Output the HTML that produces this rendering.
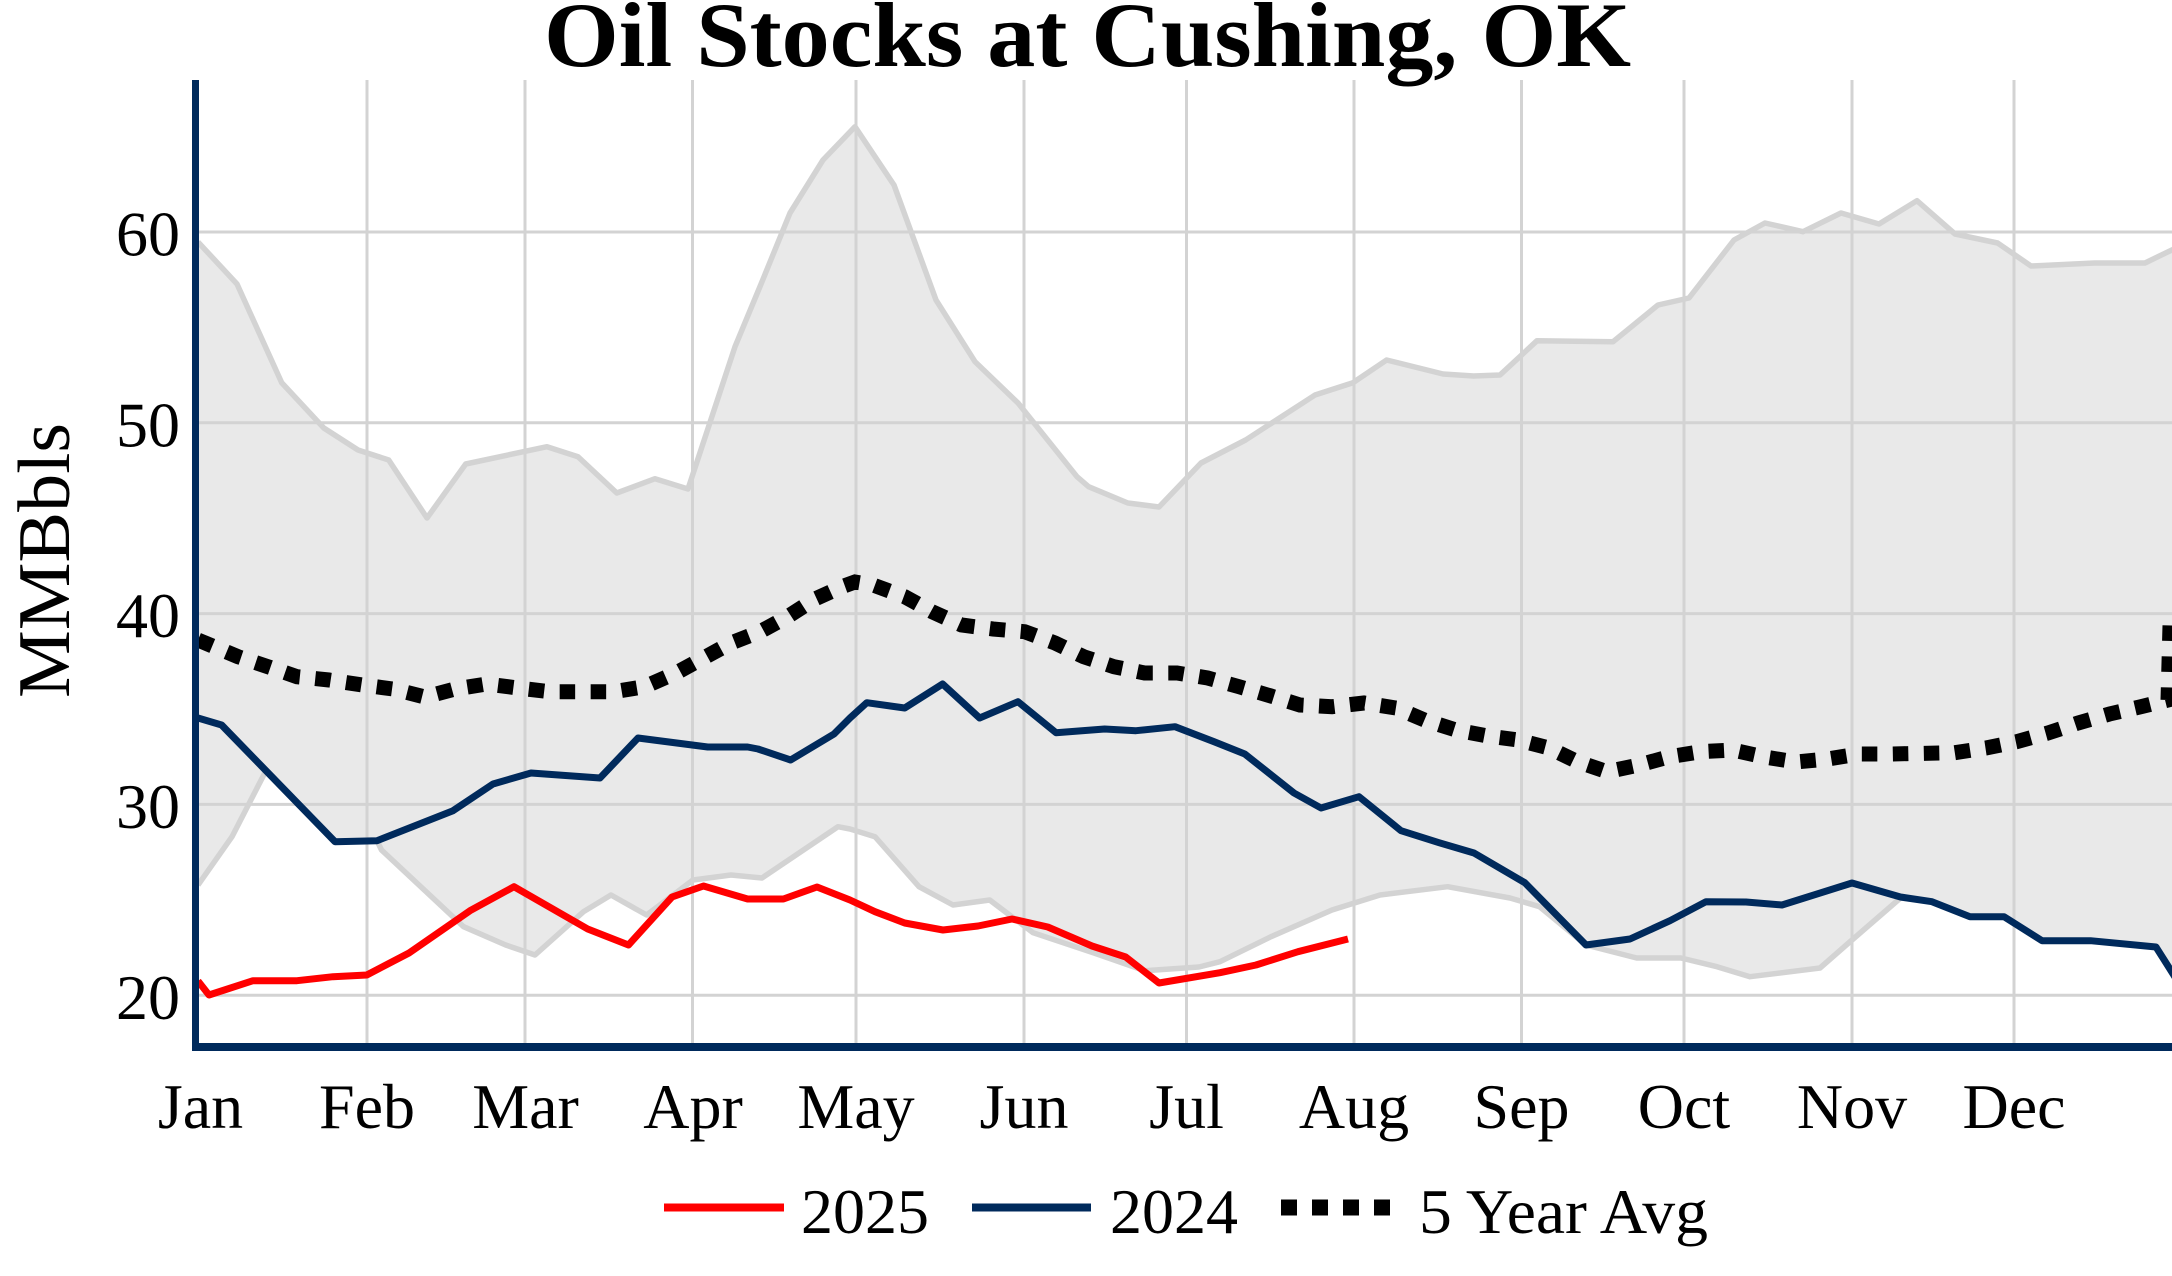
<!DOCTYPE html>
<html>
<head>
<meta charset="utf-8">
<style>
html,body{margin:0;padding:0;background:#fff;}
svg{display:block;}
text{font-family:"Liberation Serif","Times New Roman",serif;fill:#000;}
</style>
</head>
<body>
<svg width="2172" height="1276" viewBox="0 0 2172 1276" xmlns="http://www.w3.org/2000/svg">
<rect x="0" y="0" width="2172" height="1276" fill="#fff"/>
<defs>
<clipPath id="plot"><rect x="196" y="80" width="1976" height="967"/></clipPath>
</defs>

<!-- gridlines -->
<g stroke="#d3d3d3" stroke-width="3" fill="none">
<line x1="196" y1="232" x2="2172" y2="232"/>
<line x1="196" y1="422.8" x2="2172" y2="422.8"/>
<line x1="196" y1="613.6" x2="2172" y2="613.6"/>
<line x1="196" y1="804.4" x2="2172" y2="804.4"/>
<line x1="196" y1="995.2" x2="2172" y2="995.2"/>
<line x1="367" y1="80" x2="367" y2="1047"/>
<line x1="525" y1="80" x2="525" y2="1047"/>
<line x1="692.5" y1="80" x2="692.5" y2="1047"/>
<line x1="856" y1="80" x2="856" y2="1047"/>
<line x1="1024" y1="80" x2="1024" y2="1047"/>
<line x1="1186.5" y1="80" x2="1186.5" y2="1047"/>
<line x1="1354" y1="80" x2="1354" y2="1047"/>
<line x1="1521.5" y1="80" x2="1521.5" y2="1047"/>
<line x1="1684" y1="80" x2="1684" y2="1047"/>
<line x1="1852" y1="80" x2="1852" y2="1047"/>
<line x1="2014" y1="80" x2="2014" y2="1047"/>
</g>

<g clip-path="url(#plot)">
<!-- range fill -->
<polygon fill="rgba(211,211,211,0.5)" stroke="none" points="
198,242 237,284 281.7,382.7 323.8,428 358,450 388.7,460 427,518 465.7,464 547,446.7 578,456.7 616.8,493 655,478.7 688,489 735,346.7 762,281.7 790,213 823,160 855,126.7 894,185 936,300 975,361.7 1018,403 1077,476.7 1088.6,486.7 1127.8,503 1159,507 1201,463 1245.6,440 1315,395 1353,382.7 1386.6,360 1443,374 1473.7,376 1500,375 1537,340.7 1613,341.7 1658,305 1689,298 1734,240 1765,223 1803,231.7 1841,213 1879,224 1917,200.7 1955,234 1997.6,243 2031,266 2094.7,263 2145,263 2180,246
2180,985 2156,947 2090.5,940.7 2042,940.7 2004,916.7 1970,916.7 1932,901.7 1900.5,898 1852,940 1820,968 1750,976.7 1717,966.7 1681,958 1636.7,958 1586,945 1539.6,906.7 1510,898 1447.6,886.7 1380,895 1332,910 1271,936.7 1220,961.7 1199,967 1144.6,970.7 1094,953 1033,932.7 989.7,900 953,905 919,886.7 875,836.7 850,829 838,826.7 762,878 731,875 693,880 646.6,915 611,895 583.5,911.7 535,955 505.7,945 463.6,926.7 381.5,850 377,840.7 335,841.7 265.8,771 232,836.7 198,885"/>

<!-- upper envelope line -->
<polyline fill="none" stroke="#d3d3d3" stroke-width="5.5" stroke-linejoin="round" points="198,242 237,284 281.7,382.7 323.8,428 358,450 388.7,460 427,518 465.7,464 547,446.7 578,456.7 616.8,493 655,478.7 688,489 735,346.7 762,281.7 790,213 823,160 855,126.7 894,185 936,300 975,361.7 1018,403 1077,476.7 1088.6,486.7 1127.8,503 1159,507 1201,463 1245.6,440 1315,395 1353,382.7 1386.6,360 1443,374 1473.7,376 1500,375 1537,340.7 1613,341.7 1658,305 1689,298 1734,240 1765,223 1803,231.7 1841,213 1879,224 1917,200.7 1955,234 1997.6,243 2031,266 2094.7,263 2145,263 2180,246"/>

<!-- lower envelope line -->
<polyline fill="none" stroke="#d3d3d3" stroke-width="5.5" stroke-linejoin="round" points="198,885 232,836.7 265.8,771 335,841.7 377,840.7 381.5,850 463.6,926.7 505.7,945 535,955 583.5,911.7 611,895 646.6,915 693,880 731,875 762,878 838,826.7 850,829 875,836.7 919,886.7 953,905 989.7,900 1033,932.7 1094,953 1144.6,970.7 1199,967 1220,961.7 1271,936.7 1332,910 1380,895 1447.6,886.7 1510,898 1539.6,906.7 1586,945 1636.7,958 1681,958 1717,966.7 1750,976.7 1820,968 1852,940 1900.5,898 1932,901.7 1970,916.7 2004,916.7 2042,940.7 2090.5,940.7 2156,947 2180,985"/>

<!-- 5 year average -->
<polyline fill="none" stroke="#000" stroke-width="15" stroke-dasharray="15.5,15.5" points="198,640 238,656.7 268,666.7 297,676.7 329,680 362.6,685 393,689 425,697 455,689 486.7,684 518,688 550,691.7 614,691.7 644.5,686.7 676,673 703.5,658 731,643 760,631.7 787.6,616.7 815,599 842,586.7 855,582 873,585 904.7,596.7 932,611.7 961.5,625 993,629 1024.7,631.7 1055,643 1083.6,656.7 1114,666.7 1144.6,673 1177,673 1207.7,678 1239,686.7 1271,696 1300,705 1332,706.7 1364,703 1396,708 1424.5,720 1456,730 1487.6,736 1518.4,740 1549,748 1577.5,761.7 1607,771.7 1638.8,765 1669.6,756.7 1700.8,751.7 1733,750 1764.6,757 1795.8,762 1827.5,759 1858.7,754 1890,754 1954.6,752.7 1986,748 2016.6,741.7 2048,733 2078,723 2109.5,714 2141,706.7 2168,700 2170,625"/>

<!-- 2024 -->
<polyline fill="none" stroke="#002a5c" stroke-width="7" stroke-linejoin="round" points="198,718 221.6,725 335,841.7 377,840.7 453,810.7 493,784 531,773 600,778 638,738 707.7,747 747.6,747 758,749 790.6,760 834,734 850,718 866.8,702.7 904.7,708 942.6,684 979.6,718 1018,701.7 1056,732.7 1104.6,729 1136,730.7 1175,726.7 1214,741.7 1244.8,754 1294,793 1321,808 1359,796.7 1401,830.7 1439,842.7 1474,853 1524.8,882.7 1586,945 1630,939 1670,920.7 1706,901.7 1746,902 1782,905 1852,883 1900.5,897 1932,901.7 1970,916.7 2004,916.7 2042,940.7 2090.5,940.7 2156,947 2180,985"/>

<!-- 2025 -->
<polyline fill="none" stroke="#ff0000" stroke-width="7" stroke-linejoin="round" points="198,981 209,995 253,980.7 297,980.7 333,976.7 366.8,975 409,953 470,910.7 514,886.7 587.7,929 628.5,945 672,897 703.5,886 747.6,899 783.4,899 817,887 850,900 875,911.7 904.7,923 943,930 978,926 1012,919 1047.8,927 1092,946 1125.7,957 1159,983 1220,972.7 1256,965 1298,951.7 1348,939"/>
</g>

<!-- axes -->
<line x1="195.5" y1="80" x2="195.5" y2="1051" stroke="#002a5c" stroke-width="7"/>
<line x1="192" y1="1047" x2="2172" y2="1047" stroke="#002a5c" stroke-width="8"/>

<!-- title -->
<text x="544" y="66" font-size="92" font-weight="bold" textLength="1087" lengthAdjust="spacingAndGlyphs">Oil Stocks at Cushing, OK</text>

<!-- y tick labels -->
<g font-size="64" text-anchor="end">
<text x="180" y="255.5">60</text>
<text x="180" y="446.5">50</text>
<text x="180" y="637">40</text>
<text x="180" y="828">30</text>
<text x="180" y="1019">20</text>
</g>

<!-- y axis title -->
<text transform="translate(69,560.5) rotate(-90)" font-size="74" text-anchor="middle" textLength="275" lengthAdjust="spacingAndGlyphs">MMBbls</text>

<!-- x tick labels -->
<g font-size="64" text-anchor="middle">
<text x="200.5" y="1128">Jan</text>
<text x="367" y="1128">Feb</text>
<text x="525.5" y="1128">Mar</text>
<text x="693" y="1128">Apr</text>
<text x="856" y="1128">May</text>
<text x="1024" y="1128">Jun</text>
<text x="1186.5" y="1128">Jul</text>
<text x="1354" y="1128">Aug</text>
<text x="1521.5" y="1128">Sep</text>
<text x="1684" y="1128">Oct</text>
<text x="1852" y="1128">Nov</text>
<text x="2014" y="1128">Dec</text>
</g>

<!-- legend -->
<line x1="664" y1="1207.5" x2="784" y2="1207.5" stroke="#ff0000" stroke-width="8"/>
<text x="801" y="1233" font-size="64">2025</text>
<line x1="972" y1="1207.5" x2="1091" y2="1207.5" stroke="#002a5c" stroke-width="8"/>
<text x="1110" y="1233" font-size="64">2024</text>
<line x1="1281" y1="1207.5" x2="1391" y2="1207.5" stroke="#000" stroke-width="16" stroke-dasharray="16,15"/>
<text x="1419" y="1233" font-size="64" textLength="289" lengthAdjust="spacingAndGlyphs">5 Year Avg</text>
</svg>
</body>
</html>
